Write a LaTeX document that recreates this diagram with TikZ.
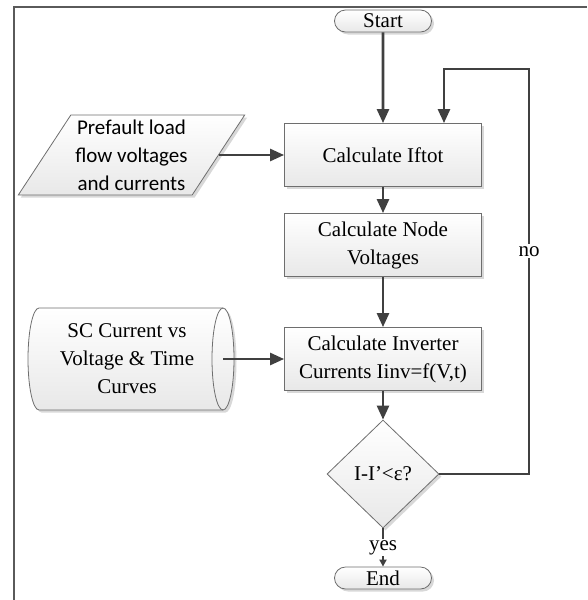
\documentclass[tikz,border=0pt]{standalone}
\usepackage{fontspec}
\setmainfont{Liberation Serif}
\newfontfamily\calib{Carlito}
\usetikzlibrary{shapes.geometric,shapes.misc,arrows.meta,shadows}
\definecolor{lc}{HTML}{404040}
\definecolor{bc}{HTML}{6E6E6E}
\definecolor{fr}{HTML}{5A5A5A}
\begin{document}
\begin{tikzpicture}[x=1pt,y=-1pt,
  font=\fontsize{21}{28}\selectfont,
  fillst/.style={draw=bc, line width=0.8pt, top color=white, bottom color=black!9,
    drop shadow={shadow xshift=2.5pt, shadow yshift=-2.5pt, fill=black!30, opacity=0.5}},
  boxst/.style={fillst, align=center, inner sep=0pt},
  procst/.style={boxst, rectangle, minimum width=197pt, minimum height=63pt},
  termst/.style={boxst, rounded rectangle, minimum width=97pt, minimum height=22pt},
  plainln/.style={draw=lc, line width=2.6pt},
  conn/.style={plainln, -{Triangle[length=14pt,width=12pt]}},
]
\useasboundingbox (0,0) rectangle (587,600);
\draw[fr, line width=2pt] (13.5,600) -- (13.5,7) -- (587,7);

\node[termst] (start) at (383,21) {Start};
\node[procst] (iftot) at (383,155) {Calculate Iftot};
\node[procst] (nodev) at (383,245) {Calculate Node\\Voltages};
\node[procst] (inv) at (383,359) {Calculate Inverter\\Currents Iinv=f(V,t)};
\node[boxst, diamond, minimum width=112pt, minimum height=108pt] (dec) at (383,474) {I-I’<ε?};
\node[termst] (end) at (383,578) {End};
\node[boxst, trapezium, trapezium left angle=55.5, trapezium right angle=124.5,
  trapezium stretches=true, minimum width=227pt, minimum height=80pt,
  font=\calib\fontsize{21}{28}\selectfont] (pre) at (131.5,155) {Prefault load\\flow voltages\\and currents};

% stored-data cylinder drawn directly
\path[fillst] (39,308) -- (223,308) arc[start angle=-90, end angle=90, x radius=11, y radius=51]
  -- (39,410) arc[start angle=90, end angle=270, x radius=11, y radius=51] -- cycle;
\draw[bc, line width=0.8pt] (223,410) arc[start angle=90, end angle=270, x radius=11, y radius=51];
\node[align=center, inner sep=0pt] (sc) at (127,359) {SC Current vs\\Voltage \& Time\\Curves};
\coordinate (scend) at (223,359);

\coordinate (lr) at (529,474);
\coordinate (lt) at (529,69);
\coordinate (lt2) at (444,69);

\draw[conn] (start) -- (iftot);
\draw[conn] (pre.east) -- (iftot.west |- pre.east);
\draw[conn] (iftot) -- (nodev);
\draw[conn] (nodev) -- (inv);
\draw[conn] (scend) -- (inv.west |- scend);
\draw[conn] (inv) -- (dec);
\draw[plainln, -{Triangle[length=7pt,width=7pt]}] (dec) -- node[fill=white, inner sep=1pt]{yes} (end);
\draw[conn] (dec.east) -- (lr) -- node[pos=0.55, fill=white, inner sep=2pt]{no} (lt) -- (lt2) -- (lt2 |- iftot.north);
\end{tikzpicture}
\end{document}
